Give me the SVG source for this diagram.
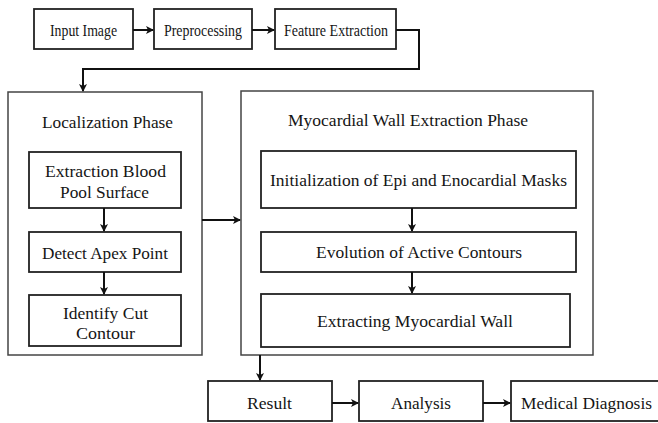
<svg xmlns="http://www.w3.org/2000/svg" width="658" height="423" viewBox="0 0 658 423" font-family="Liberation Serif, Times New Roman, serif">
<defs>
<marker id="ah" markerWidth="8" markerHeight="8" refX="7" refY="4" orient="auto" markerUnits="userSpaceOnUse">
<path d="M0,0 L8,4 L0,8 L2,4 Z" fill="#111"/>
</marker>
<style>
.box{fill:#fff;stroke:#222;stroke-width:1.8}
.outer{fill:#fff;stroke:#444;stroke-width:1.5}
text{font-size:17px;fill:#151515;text-anchor:middle;dominant-baseline:central}
.c{fill:none;stroke:#111;stroke-width:2;marker-end:url(#ah)}
</style>
</defs>
<rect width="658" height="423" fill="#fff"/>
<g id="input"><rect class="box" x="34" y="9" width="99" height="40"/><text x="83.5" y="30" textLength="67" lengthAdjust="spacingAndGlyphs">Input Image</text></g>
<g id="preprocessing"><rect class="box" x="154" y="9" width="98" height="40"/><text x="203" y="30" textLength="78" lengthAdjust="spacingAndGlyphs">Preprocessing</text></g>
<g id="feature"><rect class="box" x="275" y="9" width="121" height="40"/><text x="336" y="30" textLength="104" lengthAdjust="spacingAndGlyphs">Feature Extraction</text></g>
<g id="localization"><rect class="outer" x="8" y="92" width="194" height="263"/><text x="107.5" y="122" textLength="131" lengthAdjust="spacingAndGlyphs">Localization Phase</text></g>
<g id="bloodpool"><rect class="box" x="29" y="152" width="152" height="56"/><text x="105.5" y="171" textLength="121" lengthAdjust="spacingAndGlyphs">Extraction Blood</text><text x="104.5" y="192" textLength="89" lengthAdjust="spacingAndGlyphs">Pool Surface</text></g>
<g id="apex"><rect class="box" x="29" y="232" width="152" height="40"/><text x="105" y="253" textLength="126" lengthAdjust="spacingAndGlyphs">Detect Apex Point</text></g>
<g id="cut"><rect class="box" x="29" y="295" width="152" height="51"/><text x="105.5" y="313" textLength="85" lengthAdjust="spacingAndGlyphs">Identify Cut</text><text x="105.5" y="333" textLength="59" lengthAdjust="spacingAndGlyphs">Contour</text></g>
<g id="myocardial"><rect class="outer" x="241" y="91" width="352" height="264"/><text x="408" y="120" textLength="240" lengthAdjust="spacingAndGlyphs">Myocardial Wall Extraction Phase</text></g>
<g id="init"><rect class="box" x="261" y="151" width="315" height="57"/><text x="418.5" y="180" textLength="297" lengthAdjust="spacingAndGlyphs">Initialization of Epi and Enocardial Masks</text></g>
<g id="evolution"><rect class="box" x="261" y="232" width="315" height="40"/><text x="419" y="252" textLength="206" lengthAdjust="spacingAndGlyphs">Evolution of Active Contours</text></g>
<g id="wall"><rect class="box" x="261" y="294" width="309" height="53"/><text x="415" y="321" textLength="196" lengthAdjust="spacingAndGlyphs">Extracting Myocardial Wall</text></g>
<g id="result"><rect class="box" x="208" y="381" width="124" height="40"/><text x="269.5" y="403" textLength="45" lengthAdjust="spacingAndGlyphs">Result</text></g>
<g id="analysis"><rect class="box" x="359" y="381" width="124" height="40"/><text x="421" y="403" textLength="60" lengthAdjust="spacingAndGlyphs">Analysis</text></g>
<g id="diagnosis"><rect class="box" x="511" y="381" width="160" height="40"/><text x="586.5" y="403" textLength="131" lengthAdjust="spacingAndGlyphs">Medical Diagnosis</text></g>
<g id="connectors">
<path class="c" d="M133,30 H153"/>
<path class="c" d="M252,30 H274"/>
<path class="c" d="M396,30 H419 V69 H83 V91"/>
<path class="c" d="M104,208 V231"/>
<path class="c" d="M104,272 V294"/>
<path class="c" d="M202,220 H240"/>
<path class="c" d="M412,208 V231"/>
<path class="c" d="M412,272 V293"/>
<path class="c" d="M260,355 V380"/>
<path class="c" d="M332,403 H358"/>
<path class="c" d="M483,403 H510"/>
</g>
</svg>
